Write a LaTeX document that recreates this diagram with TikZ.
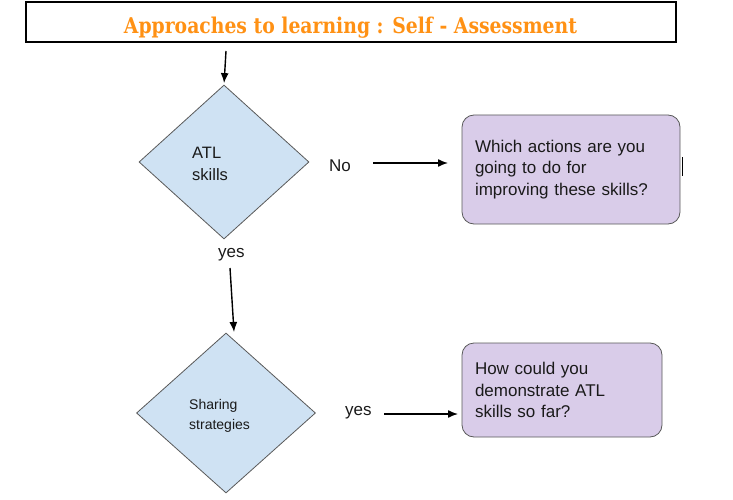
\documentclass[tikz,border=0pt]{standalone}
\usepackage{fontspec}
\setmainfont{Liberation Sans}
\newfontfamily\titlefont{DejaVu Serif}
\usetikzlibrary{shapes.geometric,arrows.meta,shadows}
\definecolor{ttl}{RGB}{255,145,20}
\definecolor{dfill}{HTML}{CFE2F3}
\definecolor{bfill}{HTML}{D9CCE9}
\definecolor{edge}{HTML}{595959}
\definecolor{txt}{HTML}{1A1A1A}
\tikzset{
  decision/.style={diamond, draw=edge, fill=dfill, line width=0.8pt, inner sep=0pt},
  answer/.style={rectangle, rounded corners=12pt, draw=edge, fill=bfill, line width=0.8pt,
     align=left, inner xsep=13pt, inner ysep=0pt, text=txt, font=\fontsize{17}{21.5}\selectfont},
  lbl/.style={inner sep=0pt, text=txt, font=\fontsize{17}{20}\selectfont},
  arr/.style={line width=1.4pt, -{Latex[length=10pt,width=8pt]}},
}
\begin{document}
\begin{tikzpicture}[x=1pt,y=-1pt]
\useasboundingbox (0,0) rectangle (733,500);
% title
\node[draw, line width=1.6pt, minimum width=650pt, minimum height=40pt, inner sep=0pt,
      drop shadow={shadow xshift=1pt, shadow yshift=-1pt, fill=gray!70, opacity=1}, fill=white]
  (title) at (351,22) {};
\node[text=ttl, inner sep=0pt, anchor=base] (ttxt) at (350.5,34)
  {\resizebox{453pt}{16.5pt}{\titlefont\bfseries Approaches to learning : Self - Assessment}};
% decisions
\node[decision, minimum width=170pt, minimum height=154pt] (d1) at (224,162) {};
\node[anchor=west, align=left, inner sep=0pt, text=txt, font=\fontsize{16.5}{22}\selectfont]
  (d1t) at (192,164) {ATL\\skills};
\node[decision, minimum width=179pt, minimum height=160pt] (d2) at (226,413) {};
\node[anchor=west, align=left, inner sep=0pt, text=txt, font=\fontsize{14}{20}\selectfont]
  (d2t) at (189,416) {Sharing\\strategies};
% answers
\node[answer, text width=192pt, minimum height=109pt] (b1) at (571,169.5)
  {Which actions are you\\going to do for\\improving these skills?};
\node[answer, text width=174pt, minimum height=94pt] (b2) at (562,390)
  {How could you\\demonstrate ATL\\skills so far?};
% labels
\node[lbl, anchor=west] (no) at (329,166) {No};
\node[lbl, anchor=west] (yes1) at (218,255) {yes};
\node[lbl, anchor=west] (yes2) at (345,413) {yes};
% connector ends
\coordinate (a1s) at (226,51);
\coordinate (a2s) at (230,268);
\coordinate (a2e) at (234,332);
\coordinate (a3s) at (373,163);
\coordinate (a3e) at (448,163);
\coordinate (a4s) at (384,414);
\coordinate (a4e) at (458,414);
\draw[arr, shorten >=1.5pt] (a1s) -- (d1.north);
\draw[arr] (a2s) -- (a2e);
\draw[arr] (a3s) -- (a3e);
\draw[arr] (a4s) -- (a4e);
% small mark
\coordinate (m1) at (682.5,157);
\coordinate (m2) at (682.5,176);
\draw[line width=1.8pt] (m1) -- (m2);
\end{tikzpicture}
\end{document}
